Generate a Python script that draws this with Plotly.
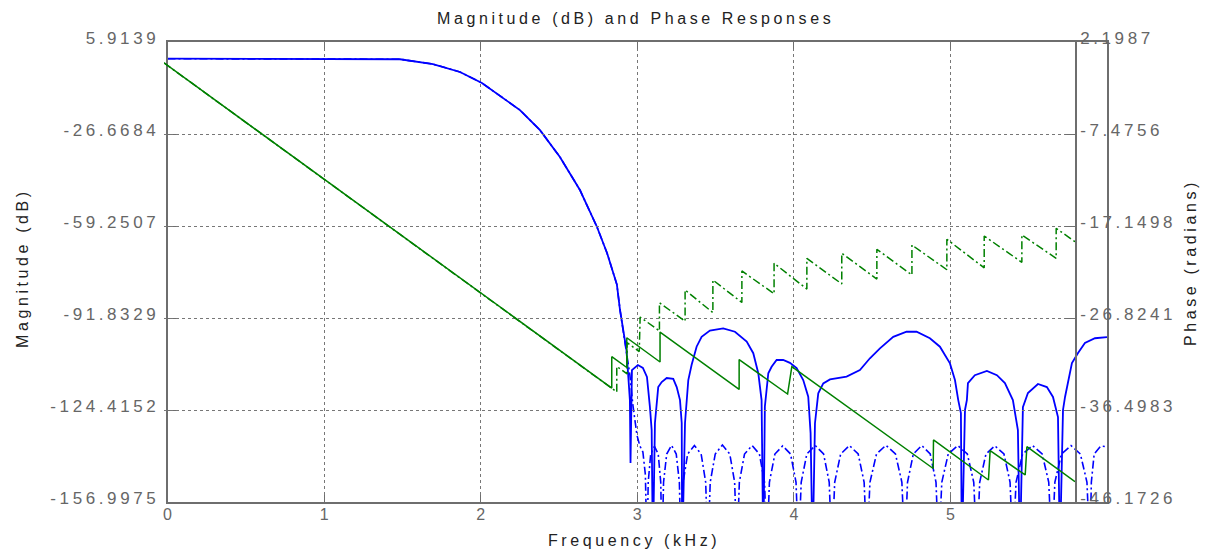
import plotly.graph_objects as go

# ---------------- data ----------------
# Filter 1 (solid) magnitude, dB vs kHz
mag1_f = [0.000, 1.357, 1.485, 1.695, 1.868, 2.008, 2.123, 2.251, 2.379, 2.506, 2.634,
          2.743, 2.807, 2.870, 2.890, 2.909, 2.931, 2.943, 2.953, 2.957, 2.966, 3.004,
          3.036, 3.062, 3.072, 3.081, 3.092, 3.100, 3.113, 3.124, 3.134, 3.156, 3.188,
          3.230, 3.252, 3.273, 3.284, 3.287, 3.305, 3.326, 3.347, 3.379, 3.411, 3.464,
          3.549, 3.624, 3.699, 3.741, 3.773, 3.794, 3.805, 3.815, 3.837, 3.858, 3.890,
          3.932, 3.975, 4.018, 4.060, 4.092, 4.107, 4.120, 4.135, 4.156, 4.188, 4.231,
          4.337, 4.422, 4.486, 4.550, 4.635, 4.720, 4.784, 4.869, 4.933, 4.997, 5.029,
          5.050, 5.067, 5.073, 5.093, 5.105, 5.112, 5.156, 5.233, 5.297, 5.348, 5.399,
          5.431, 5.444, 5.463, 5.495, 5.559, 5.616, 5.655, 5.687, 5.699, 5.719, 5.732,
          5.776, 5.815, 5.859, 5.923, 6.000]
mag1_db = [0.0, 0.0, -0.2, -1.9, -4.7, -8.6, -13.2, -18.2, -25.3, -34.8, -46.5,
           -59.6, -68.8, -80.0, -89.0, -96.1, -103.2, -112.7, -120.9, -143.2, -110.3, -108.5,
           -109.5, -112.7, -117.3, -123.4, -131.5, -175.0, -129.0, -120.9, -116.3, -114.5, -113.1,
           -113.4, -116.3, -120.9, -129.0, -175.0, -129.0, -113.8, -108.5, -102.0, -98.5, -96.3,
           -95.5, -96.7, -100.2, -104.3, -111.4, -120.9, -175.0, -123.2, -111.4, -109.1, -106.7,
           -106.7, -107.7, -109.6, -113.8, -119.7, -132.6, -175.0, -129.1, -118.5, -115.0, -113.6,
           -112.6, -110.3, -106.1, -102.6, -98.5, -96.7, -96.7, -99.0, -102.0, -107.9, -113.8,
           -120.9, -125.5, -175.0, -124.4, -120.9, -114.9, -112.1, -110.6, -112.1, -114.9, -120.9,
           -131.5, -175.0, -123.4, -118.4, -115.2, -116.3, -119.8, -126.9, -175.0, -124.4, -119.8,
           -107.8, -104.2, -100.7, -99.0, -98.6]

# Filter 2 (dash-dot) magnitude, dB vs kHz
mag2_f = [0.000, 1.357, 1.485, 1.695, 1.868, 2.008, 2.123, 2.251, 2.379, 2.506, 2.634,
          2.743, 2.807, 2.870, 2.890, 2.909, 2.931, 2.953, 2.972, 2.998, 3.017, 3.036,
          3.052, 3.062,
          3.070, 3.086, 3.110, 3.134, 3.150, 3.158,
          3.168, 3.188, 3.219, 3.249, 3.269, 3.279,
          3.293, 3.322, 3.365, 3.408, 3.437, 3.451,
          3.466, 3.498, 3.544, 3.591, 3.622, 3.637,
          3.652, 3.685, 3.733, 3.780, 3.813, 3.828,
          3.844, 3.879, 3.929, 3.979, 4.014, 4.030,
          4.047, 4.083, 4.137, 4.190, 4.226, 4.243,
          4.261, 4.299, 4.355, 4.411, 4.449, 4.467,
          4.486, 4.528, 4.588, 4.649, 4.690, 4.709,
          4.726, 4.763, 4.817, 4.871, 4.908, 4.925,
          4.945, 4.986, 5.047, 5.108, 5.149, 5.169,
          5.187, 5.227, 5.284, 5.342, 5.381, 5.399,
          5.419, 5.461, 5.524, 5.586, 5.628, 5.648,
          5.667, 5.709, 5.770, 5.830, 5.872, 5.891,
          5.900, 5.918, 5.960, 6.000]
mag2_db = [0.0, 0.0, -0.2, -1.9, -4.7, -8.6, -13.2, -18.2, -25.3, -34.8, -46.5,
           -59.6, -68.8, -80.0, -89.0, -96.1, -103.2, -112.0, -122.6, -133.3, -137.2, -139.3,
           -147.4, -175.0,
           -150.0, -140.0, -137.3, -140.0, -150.0, -175.0,
           -150.0, -140.0, -136.9, -140.0, -150.0, -175.0,
           -150.0, -140.0, -137.0, -140.0, -150.0, -175.0,
           -150.0, -140.0, -136.8, -140.0, -150.0, -175.0,
           -150.0, -140.0, -137.0, -140.0, -150.0, -175.0,
           -150.0, -140.0, -137.1, -140.0, -150.0, -175.0,
           -150.0, -140.0, -137.0, -140.0, -150.0, -175.0,
           -150.0, -140.0, -137.0, -140.0, -150.0, -175.0,
           -150.0, -140.0, -136.9, -140.0, -150.0, -175.0,
           -150.0, -140.0, -137.0, -140.0, -150.0, -175.0,
           -150.0, -140.0, -137.0, -140.0, -150.0, -175.0,
           -150.0, -140.0, -137.1, -140.0, -150.0, -175.0,
           -150.0, -140.0, -137.0, -140.0, -150.0, -175.0,
           -150.0, -140.0, -137.0, -140.0, -150.0, -175.0,
           -150.0, -140.0, -137.2, -137.4]

# Filter 1 (solid) phase, radians vs kHz
ph1_f = [0.000, 2.949, 2.949, 3.048, 3.048, 3.267, 3.267, 3.788, 3.788, 4.107, 4.135,
         5.066, 5.068, 5.430, 5.441, 5.672, 5.683, 6.000]
ph1_rad = [0.00, -34.19, -30.89, -32.03, -28.90, -31.45, -28.30, -34.34, -31.19, -34.82, -31.94,
           -42.65, -39.65, -43.86, -40.78, -43.33, -40.36, -44.04]

# Filter 2 (dash-dot) phase, radians vs kHz
ph2_f = [0.000, 2.982, 2.982, 3.050, 3.050, 3.130, 3.136, 3.263, 3.263, 3.432, 3.432,
         3.615, 3.615, 3.806, 3.806, 4.018, 4.018, 4.234, 4.234, 4.464, 4.464,
         4.695, 4.695, 4.926, 4.926, 5.156, 5.156, 5.402, 5.402, 5.650, 5.650,
         5.876, 5.876, 6.000]
ph2_rad = [0.00, -34.60, -31.92, -32.70, -29.42, -30.35, -26.72, -28.19, -25.22, -27.16, -23.88,
           -26.26, -22.83, -25.19, -21.88, -24.27, -21.07, -23.78, -20.55, -23.24, -20.02,
           -22.73, -19.60, -22.30, -19.15, -21.75, -18.55, -21.55, -18.20, -20.97, -18.10,
           -20.55, -17.39, -18.80]

freq_ticks = [0, 1, 2, 3, 4, 5]
mag_ticks = [5.9139, -26.6684, -59.2507, -91.8329, -124.4152, -156.9975]
phase_ticks = [2.1987, -7.4756, -17.1498, -26.8241, -36.4983, -46.1726]
freq_range = [0, 6]

# ---------------- styling ----------------
FONT = "Liberation Sans, Arial, Helvetica, sans-serif"
TICKGRAY = "#666666"
LINEGRAY = "#6e6e6e"
GRIDGRAY = "#777777"
BLUE = "#0000ff"
GREEN = "#008000"
DASHDOT = "8px,3px,2px,3px"
LS = 3.6


def spaced(s, ls=LS, shift=None):
    style = f"letter-spacing:{ls}px"
    if shift is not None:
        style += f";baseline-shift:{shift}px"
    return f'<span style="{style}">{s}</span>'


W_PAPER = 1107 - 164

fig = go.Figure()
fig.add_trace(go.Scatter(x=mag1_f, y=mag1_db, mode="lines", xaxis="x", yaxis="y",
                         line=dict(color=BLUE, width=1.8), hoverinfo="skip"))
fig.add_trace(go.Scatter(x=mag2_f, y=mag2_db, mode="lines", xaxis="x", yaxis="y",
                         line=dict(color=BLUE, width=1.6, dash=DASHDOT), hoverinfo="skip"))
fig.add_trace(go.Scatter(x=ph1_f, y=ph1_rad, mode="lines", xaxis="x2", yaxis="y2",
                         line=dict(color=GREEN, width=1.5), hoverinfo="skip"))
fig.add_trace(go.Scatter(x=ph2_f, y=ph2_rad, mode="lines", xaxis="x2", yaxis="y2",
                         line=dict(color=GREEN, width=1.5, dash=DASHDOT), hoverinfo="skip"))

fig.update_layout(
    width=1208, height=555,
    margin=dict(l=164, r=101, t=42, b=53),
    paper_bgcolor="white", plot_bgcolor="rgba(0,0,0,0)",
    showlegend=False,
    font=dict(family=FONT, size=17, color=TICKGRAY),
    xaxis=dict(domain=[3.5 / W_PAPER, 1], range=freq_range, anchor="y",
               tickvals=freq_ticks,
               ticktext=[spaced(str(v), 0, shift=3) for v in freq_ticks],
               ticks="inside", ticklen=7, tickcolor=LINEGRAY, tickwidth=1,
               showline=True, linecolor=LINEGRAY, linewidth=1.6, mirror="ticks",
               showgrid=True, gridcolor=GRIDGRAY, griddash="dot", gridwidth=1,
               zeroline=False, tickfont=dict(size=16, color=TICKGRAY)),
    yaxis=dict(domain=[0, 1], range=[mag_ticks[-1], mag_ticks[0]], anchor="x",
               tickvals=mag_ticks,
               ticktext=[spaced(f"{v:.4f}", shift=4.5) for v in mag_ticks],
               ticks="inside", ticklen=9, tickcolor=LINEGRAY, ticklabelstandoff=3,
               showline=True, linecolor=LINEGRAY, linewidth=1.6, mirror=True,
               showgrid=False, zeroline=False, tickfont=dict(size=17, color=TICKGRAY)),
    xaxis2=dict(domain=[0, (1075 - 164) / W_PAPER], range=freq_range, anchor="y2",
                visible=False),
    yaxis2=dict(domain=[0, 1], range=[phase_ticks[-1], phase_ticks[0]], anchor="x2",
                side="right",
                tickvals=phase_ticks,
                ticktext=[spaced(f"{v:.4f}", shift=4.5) for v in phase_ticks],
                ticks="inside", ticklen=10, tickcolor=LINEGRAY,
                showline=True, linecolor=LINEGRAY, linewidth=1.6,
                showgrid=True, gridcolor=GRIDGRAY, griddash="dot", gridwidth=1,
                zeroline=False, tickfont=dict(size=17, color=TICKGRAY)),
)


def px_x(p):
    return (p - 164) / W_PAPER


def px_y(p):
    return (502 - p) / 460


TITLECOL = "#222222"
fig.add_annotation(text=spaced("Magnitude (dB) and Phase Responses", 3.6),
                   xref="paper", yref="paper", x=px_x(635), y=px_y(18),
                   xanchor="center", yanchor="middle", showarrow=False,
                   font=dict(size=16, color=TITLECOL, family=FONT))
fig.add_annotation(text=spaced("Frequency (kHz)", 3.6),
                   xref="paper", yref="paper", x=px_x(634), y=px_y(540),
                   xanchor="center", yanchor="middle", showarrow=False,
                   font=dict(size=16, color=TITLECOL, family=FONT))
fig.add_annotation(text=spaced("Magnitude (dB)", 3.6),
                   xref="paper", yref="paper", x=px_x(22), y=px_y(268),
                   xanchor="center", yanchor="middle", showarrow=False, textangle=-90,
                   font=dict(size=16, color=TITLECOL, family=FONT))
fig.add_annotation(text=spaced("Phase (radians)", 3.6),
                   xref="paper", yref="paper", x=px_x(1190), y=px_y(263),
                   xanchor="center", yanchor="middle", showarrow=False, textangle=-90,
                   font=dict(size=16, color=TITLECOL, family=FONT))

fig.write_html("out.html")
